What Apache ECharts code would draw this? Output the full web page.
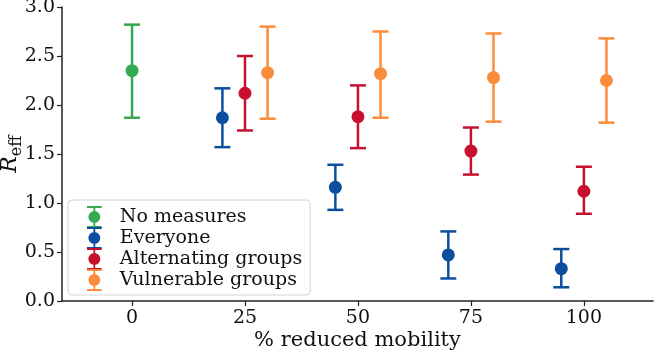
<!DOCTYPE html>
<html>
<head>
<meta charset="utf-8">
<script src="https://cdn.jsdelivr.net/npm/echarts@6/dist/echarts.min.js"></script>
<style>
  html, body { margin: 0; padding: 0; background: #fff; }
  #chart { width: 656px; height: 353px; }
</style>
</head>
<body>
<div id="chart"></div>
<script>
let groupNames = ['No measures', 'Everyone', 'Alternating groups', 'Vulnerable groups']
let groupColors = ['#35a852', '#0c4e9e', '#c70f2e', '#fa8c3c']

// x position (% reduced mobility, offset per group)
let xNoMeasures = [0]
let xEveryone = [20, 45, 70, 95]
let xAlternating = [25, 50, 75, 100]
let xVulnerable = [30, 55, 80, 105]

// mean R_eff
let rNoMeasures = [2.35]
let rEveryone = [1.87, 1.16, 0.47, 0.33]
let rAlternating = [2.12, 1.88, 1.53, 1.12]
let rVulnerable = [2.33, 2.32, 2.28, 2.25]

// error bar bounds
let lowNoMeasures = [1.87]
let highNoMeasures = [2.82]
let lowEveryone = [1.57, 0.93, 0.23, 0.14]
let highEveryone = [2.17, 1.39, 0.71, 0.53]
let lowAlternating = [1.74, 1.56, 1.29, 0.89]
let highAlternating = [2.50, 2.20, 1.77, 1.37]
let lowVulnerable = [1.86, 1.87, 1.83, 1.82]
let highVulnerable = [2.80, 2.75, 2.73, 2.68]

let xTicks = [0, 25, 50, 75, 100]

let groups = [
  [xNoMeasures, rNoMeasures, lowNoMeasures, highNoMeasures],
  [xEveryone, rEveryone, lowEveryone, highEveryone],
  [xAlternating, rAlternating, lowAlternating, highAlternating],
  [xVulnerable, rVulnerable, lowVulnerable, highVulnerable],
]

const FONT = 'DejaVu Serif'
const CAP = 8

function errorBarItem(color) {
  return function (params, api) {
    let center = api.coord([api.value(0), api.value(1)])
    let lo = api.coord([api.value(0), api.value(2)])
    let hi = api.coord([api.value(0), api.value(3)])
    let x = center[0]
    let lineStyle = { stroke: color, lineWidth: 2.5 }
    return {
      type: 'group',
      children: [
        { type: 'line', shape: { x1: x, y1: lo[1], x2: x, y2: hi[1] }, style: lineStyle },
        { type: 'line', shape: { x1: x - CAP, y1: lo[1], x2: x + CAP, y2: lo[1] }, style: lineStyle },
        { type: 'line', shape: { x1: x - CAP, y1: hi[1], x2: x + CAP, y2: hi[1] }, style: lineStyle },
        { type: 'circle', shape: { cx: x, cy: center[1], r: 6.5 }, style: { fill: color } },
      ]
    }
  }
}

// errorbar legend glyph: caps, split stem and a dot in the middle
let legendIcon = 'path://M0,0 L16,0 L16,2.2 L0,2.2 Z M7,2 L9,2 L9,6 L7,6 Z M7,18 L9,18 L9,22 L7,22 Z M0,21.8 L16,21.8 L16,24 L0,24 Z ' +
  'M1.5,12 A6.5,6.5 0 1 1 14.5,12 A6.5,6.5 0 1 1 1.5,12 Z'

let series = groups.map((g, i) => ({
  name: groupNames[i],
  type: 'custom',
  color: groupColors[i],
  renderItem: errorBarItem(groupColors[i]),
  encode: { x: 0, y: [1, 2, 3] },
  data: g[0].map((x, j) => [x, g[1][j], g[2][j], g[3][j]]),
  z: 2 + i,
}))

let chart = echarts.init(document.getElementById('chart'), null, { renderer: 'canvas' })
chart.setOption({
  animation: false,
  backgroundColor: '#fff',
  textStyle: { fontFamily: FONT },
  grid: { left: 62, right: 3, top: 7, bottom: 52, outerBoundsMode: 'none', containLabel: false },
  legend: {
    orient: 'vertical',
    left: 68,
    top: 200,
    width: 243,
    padding: [6, 8, 4, 19],
    itemGap: -1,
    itemWidth: 17,
    itemHeight: 22,
    backgroundColor: 'rgba(255,255,255,0.8)',
    borderColor: '#d4d4d4',
    borderWidth: 1,
    borderRadius: 4,
    textStyle: { fontFamily: FONT, fontSize: 19, lineHeight: 21, color: '#111', padding: [0, 0, 0, 12] },
    data: groupNames.map(n => ({ name: n, icon: legendIcon })),
  },
  xAxis: {
    type: 'value',
    min: -15.5,
    max: 115.3,
    interval: 25,
    splitLine: { show: false },
    axisLine: { onZero: false, lineStyle: { color: '#222', width: 1.5 } },
    axisTick: { length: 5, customValues: xTicks, lineStyle: { color: '#222', width: 1.2 } },
    axisLabel: {
      fontFamily: FONT, fontSize: 19, color: '#111', margin: 8,
      customValues: xTicks,
    },
    name: '% reduced mobility',
    nameLocation: 'middle',
    nameGap: 29,
    nameMoveOverlap: false,
    nameTextStyle: { fontFamily: FONT, fontSize: 21, color: '#111' },
  },
  yAxis: {
    type: 'value',
    min: 0,
    max: 3,
    interval: 0.5,
    splitLine: { show: false },
    axisLine: { show: true, onZero: false, lineStyle: { color: '#222', width: 1.5 } },
    axisTick: { show: true, length: 5, lineStyle: { color: '#222', width: 1.2 } },
    axisLabel: {
      fontFamily: FONT, fontSize: 19, color: '#111', margin: 7,
      formatter: v => v.toFixed(1),
    },
    name: '{r|R}{s|eff}',
    nameLocation: 'middle',
    nameGap: 41,
    nameMoveOverlap: false,
    nameTextStyle: {
      rich: {
        r: { fontFamily: FONT, fontStyle: 'italic', fontSize: 22, color: '#111' },
        s: { fontFamily: FONT, fontSize: 16, color: '#111', verticalAlign: 'bottom', padding: [0, 0, -4, 0] },
      }
    },
  },
  series: series,
})
</script>
</body>
</html>
